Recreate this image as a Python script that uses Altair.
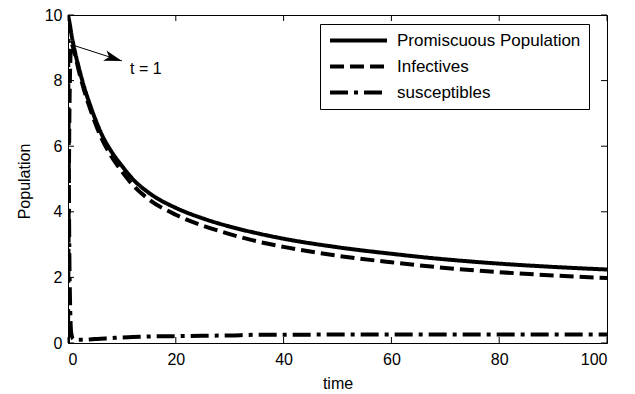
import altair as alt
import pandas as pd

# ---- data ----
t_vals = [0, 0.3, 0.6, 1, 2, 3, 4, 5, 6, 8, 10, 12, 15, 20, 25, 30, 35, 40, 50, 60, 70, 80, 90, 100]
promiscuous = [10, 9.75, 9.45, 9.1, 8.4, 7.8, 7.3, 6.85, 6.45, 5.85, 5.4, 5.0, 4.58, 4.12, 3.8, 3.55, 3.35, 3.18, 2.92, 2.72, 2.55, 2.42, 2.32, 2.24]
infectives = [0, 7.5, 9.15, 8.98, 8.3, 7.7, 7.19, 6.73, 6.32, 5.7, 5.23, 4.82, 4.38, 3.91, 3.58, 3.32, 3.1, 2.93, 2.66, 2.46, 2.29, 2.16, 2.06, 1.98]
susceptibles = [10, 2.0, 0.3, 0.12, 0.1, 0.1, 0.11, 0.12, 0.13, 0.15, 0.17, 0.18, 0.2, 0.21, 0.22, 0.23, 0.25, 0.25, 0.26, 0.26, 0.26, 0.26, 0.26, 0.26]
series_names = ["Promiscuous Population", "Infectives", "susceptibles"]
series_dash = [[1, 0], [14, 6], [18, 6, 4, 6]]

x_ticks = [0, 20, 40, 60, 80, 100]
y_ticks = [0, 2, 4, 6, 8, 10]

# annotation "t = 1"
arrow_t = [0.74]
arrow_v = [9.09]
arrow_t2 = [10.0]
arrow_v2 = [8.6]
head_t = [8.42]
head_v = [8.68]
note_t = [11.5]
note_v = [8.35]
note_text = ["t = 1"]

W, H = 539, 328
FONT = "Liberation Sans"

rows = []
for name, vals in zip(series_names, [promiscuous, infectives, susceptibles]):
    for t, v in zip(t_vals, vals):
        rows.append({"series": name, "t": t, "v": v})
df = pd.DataFrame(rows)

xs = alt.Scale(domain=[0, 100], nice=False, zero=False)
ys = alt.Scale(domain=[0, 10], nice=False, zero=False)

lines = alt.Chart(df).mark_line(strokeWidth=4, color="black", clip=True,
                                strokeCap="butt", interpolate="monotone").encode(
    x=alt.X("t:Q", scale=xs, title="time",
            axis=alt.Axis(values=x_ticks, tickSize=0, labelPadding=8, grid=False,
                          titleX=W / 2, titleY=40, titleBaseline="middle")),
    y=alt.Y("v:Q", scale=ys, title="Population",
            axis=alt.Axis(values=y_ticks, tickSize=0, labelPadding=6, grid=False,
                          titleX=-44, titleY=166, titleAngle=270, titleAlign="center",
                          titleBaseline="middle")),
    strokeDash=alt.StrokeDash(
        "series:N",
        scale=alt.Scale(domain=series_names, range=series_dash),
        sort=series_names,
        legend=alt.Legend(
            title=None, orient="none", legendX=252, legendY=9,
            symbolType="stroke", symbolSize=3249, symbolStrokeWidth=4,
            symbolStrokeColor="black", labelFont=FONT, labelFontSize=17,
            labelColor="black", labelOffset=8, rowPadding=8, padding=8,
            clipHeight=17,
            strokeColor="black", fillColor="white", cornerRadius=0,
            labelLimit=400,
        ),
    ),
    order=alt.Order("t:Q"),
)

xt = pd.DataFrame({"t": x_ticks})
yt = pd.DataFrame({"v": y_ticks})
tick_style = dict(color="black", strokeWidth=1)
xb = alt.Chart(xt).mark_rule(**tick_style).encode(
    x=alt.X("t:Q", scale=xs), y=alt.value(H), y2=alt.value(H - 6))
xtop = alt.Chart(xt).mark_rule(**tick_style).encode(
    x=alt.X("t:Q", scale=xs), y=alt.value(0), y2=alt.value(6))
yl = alt.Chart(yt).mark_rule(**tick_style).encode(
    y=alt.Y("v:Q", scale=ys), x=alt.value(0), x2=alt.value(6))
yr = alt.Chart(yt).mark_rule(**tick_style).encode(
    y=alt.Y("v:Q", scale=ys), x=alt.value(W), x2=alt.value(W - 6))

ann = pd.DataFrame({"t": arrow_t, "v": arrow_v, "t2": arrow_t2, "v2": arrow_v2})
arrow_line = alt.Chart(ann).mark_rule(color="black", strokeWidth=1).encode(
    x=alt.X("t:Q", scale=xs), y=alt.Y("v:Q", scale=ys),
    x2="t2:Q", y2="v2:Q")
head = alt.Chart(pd.DataFrame({"t": head_t, "v": head_v})).mark_point(
    shape="M1,0L-1,-0.6L-0.5,0L-1,0.6Z", size=324, angle=18, filled=True,
    color="black", opacity=1, strokeWidth=0).encode(
    x=alt.X("t:Q", scale=xs), y=alt.Y("v:Q", scale=ys))
note = alt.Chart(pd.DataFrame({"t": note_t, "v": note_v, "s": note_text})).mark_text(
    align="left", baseline="middle", font=FONT, fontSize=16, color="black").encode(
    x=alt.X("t:Q", scale=xs), y=alt.Y("v:Q", scale=ys), text="s:N")

chart = alt.layer(lines, xb, xtop, yl, yr, arrow_line, head, note).properties(
    width=W, height=H,
    autosize=alt.AutoSizeParams(type="none"),
    padding={"left": 68, "top": 15, "right": 28, "bottom": 51},
    background="white",
).configure_view(stroke="black", strokeWidth=1).configure_axis(
    grid=False, domainColor="black", labelColor="black", labelFontSize=16,
    labelFont=FONT, titleFont=FONT, titleFontSize=16, titleFontWeight="normal",
    titleColor="black", tickSize=0,
)

chart.save("out.html", embed_options={"renderer": "svg", "actions": False})
